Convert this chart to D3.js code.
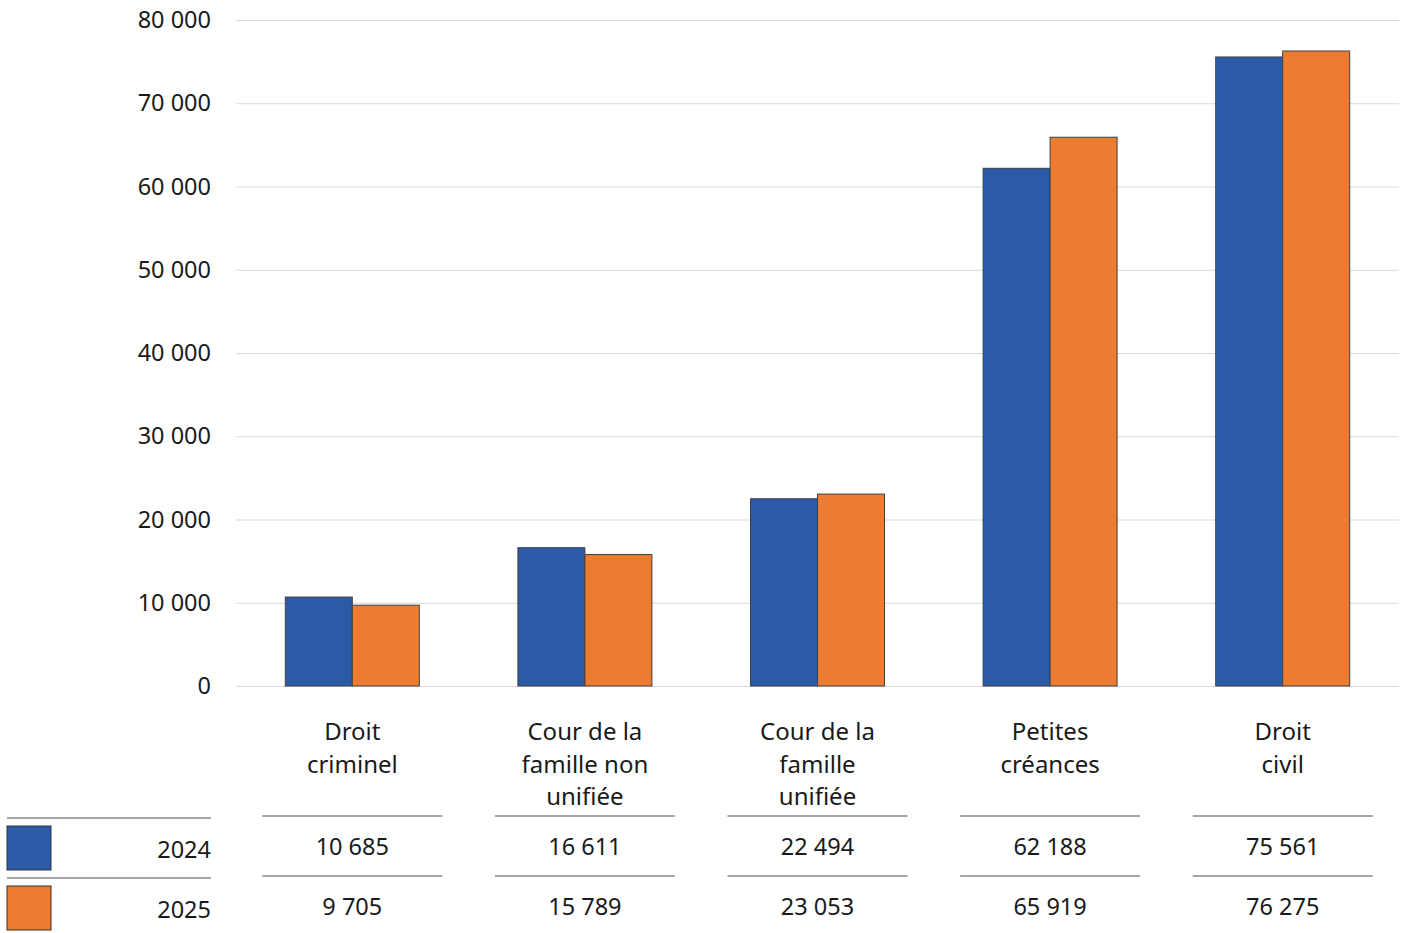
<!DOCTYPE html>
<html><head><meta charset="utf-8">
<script src="https://cdn.jsdelivr.net/npm/d3@7"></script>
<style>
html,body{margin:0;padding:0;background:#fff;}
text{font-family:"Noto Sans","Open Sans",sans-serif;fill:#1a1a1a;}
</style></head>
<body>
<svg id="chart" width="1403" height="933"></svg>
<script>
const categories = [["Droit","criminel"],["Cour de la","famille non","unifiée"],["Cour de la","famille","unifiée"],["Petites","créances"],["Droit","civil"]];
const seriesNames = ["2024","2025"];
const values2024 = [10685,16611,22494,62188,75561];
const values2025 = [9705,15789,23053,65919,76275];
const yTicks = [0,10000,20000,30000,40000,50000,60000,70000,80000];
const colors = ["#2B5BA8","#EC7C30"];

(function(){
const svg = d3.select("#chart");
const pLeft = 236, pRight = 1399, pTop = 20, pBottom = 686;
const fmt = v => d3.format(",")(v).replace(/,/g, " ");

const y = d3.scaleLinear().domain([0,80000]).range([pBottom, pTop]);
const idx = d3.range(categories.length);
const x0 = d3.scaleBand().domain(idx).range([pLeft, pRight]).padding(0);
const groupW = 134;
const x1 = d3.scaleBand().domain(seriesNames)
  .range([(x0.step()-groupW)/2, (x0.step()+groupW)/2]).padding(0);

const yAxis = d3.axisLeft(y).tickValues(yTicks).tickSize(-(pRight-pLeft)).tickFormat(fmt).tickPadding(25);
const ga = svg.append("g").attr("transform",`translate(${pLeft},0)`).call(yAxis);
ga.select(".domain").remove();
ga.selectAll(".tick line").attr("stroke","#d9d9d9").attr("stroke-width",1);
ga.selectAll(".tick text").style("font-size","23.5px").attr("fill","#1a1a1a")
  .style("font-family",'"Noto Sans","Open Sans",sans-serif');

const series = [values2024, values2025];
idx.forEach(i => {
  const g = svg.append("g").attr("transform",`translate(${x0(i)},0)`);
  seriesNames.forEach((s,k) => {
    g.append("rect")
      .attr("x", x1(s)).attr("width", x1.bandwidth())
      .attr("y", y(series[k][i])).attr("height", y(0)-y(series[k][i]))
      .attr("fill", colors[k]).attr("stroke","#404040").attr("stroke-width",1);
  });
});

idx.forEach(i => {
  const cx = x0(i) + x0.bandwidth()/2;
  const t = svg.append("text").attr("text-anchor","middle").style("font-size","24px");
  categories[i].forEach((line,j) => {
    t.append("tspan").attr("x", cx).attr("y", 740 + j*32.5).text(line);
  });
});

const lineYs = [816, 876];
const valYs = [855, 915];
idx.forEach(i => {
  const cx = x0(i) + x0.bandwidth()/2;
  lineYs.forEach(ly => {
    svg.append("line").attr("x1", cx-90).attr("x2", cx+90).attr("y1", ly).attr("y2", ly)
      .attr("stroke","#a6a6a6").attr("stroke-width",2);
  });
  series.forEach((vals,k) => {
    svg.append("text").attr("x", cx).attr("y", valYs[k]).attr("text-anchor","middle")
      .style("font-size","23.5px").text(fmt(vals[i]));
  });
});

seriesNames.forEach((s,k) => {
  const ly = 818 + k*60;
  svg.append("line").attr("x1",7).attr("x2",211).attr("y1",ly).attr("y2",ly)
    .attr("stroke","#a6a6a6").attr("stroke-width",2);
  svg.append("rect").attr("x",7).attr("y",ly+8).attr("width",44).attr("height",44)
    .attr("fill",colors[k]).attr("stroke","#333").attr("stroke-width",1);
  svg.append("text").attr("x",211).attr("y",ly+40).attr("text-anchor","end")
    .style("font-size","23.5px").text(s);
});
})();
</script>
</body></html>
